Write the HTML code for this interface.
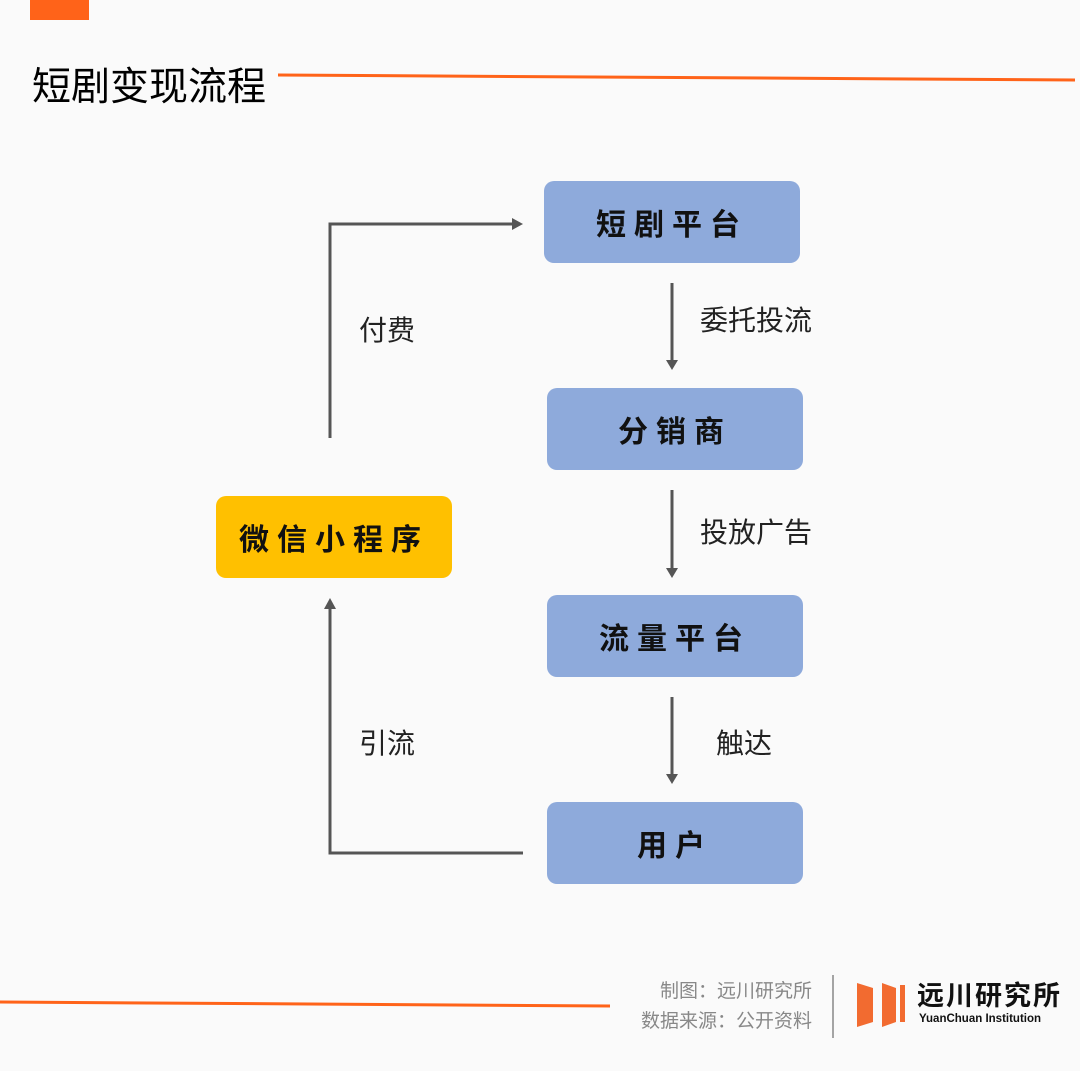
<!DOCTYPE html>
<html><head><meta charset="utf-8"><style>
body{margin:0;width:1080px;height:1071px;background:#fafafa;position:relative;overflow:hidden;font-family:"Liberation Sans","Noto Sans CJK SC",sans-serif}
.a{position:absolute;white-space:nowrap}
.box{position:absolute;background:#8eaadb;border-radius:10px;display:flex;align-items:center;justify-content:center;font-size:30px;letter-spacing:8px;color:#111;font-weight:bold}
.lb{position:absolute;font-size:28px;color:#222;white-space:nowrap}
</style></head><body>
<div class="a" style="left:30px;top:0;width:59px;height:20px;background:#ff6319"></div>
<div class="a" style="left:32px;top:56px;font-size:39px;color:#000">短剧变现流程</div>
<svg class="a" style="left:0;top:0" width="1080" height="1071">
<line x1="278" y1="75" x2="1075" y2="80" stroke="#ff6319" stroke-width="3"/>
<line x1="0" y1="1002" x2="610" y2="1006" stroke="#ff6319" stroke-width="3"/>
<line x1="833" y1="975" x2="833" y2="1038" stroke="#888" stroke-width="1.5"/>
<g stroke="#555" stroke-width="3" fill="none">
<line x1="672" y1="283" x2="672" y2="362"/>
<line x1="672" y1="490" x2="672" y2="572"/>
<line x1="672" y1="697" x2="672" y2="778"/>
<polyline points="330,438 330,224 515,224"/>
<polyline points="523,853 330,853 330,606"/>
</g>
<g fill="#555">
<polygon points="666,360 678,360 672,370"/>
<polygon points="666,568 678,568 672,578"/>
<polygon points="666,774 678,774 672,784"/>
<polygon points="512,218 512,230 523,224"/>
<polygon points="324,609 336,609 330,598"/>
</g>
<polygon points="857,983 873,988 873,1022 857,1027" fill="#f26b30"/>
<polygon points="882,983 896,988 896,1022 882,1027" fill="#f26b30"/>
<rect x="900" y="985" width="5" height="37" fill="#f26b30"/>
</svg>
<div class="box" style="left:544px;top:181px;width:256px;height:82px">短剧平台</div>
<div class="box" style="left:547px;top:388px;width:256px;height:82px">分销商</div>
<div class="box" style="left:547px;top:595px;width:256px;height:82px">流量平台</div>
<div class="box" style="left:547px;top:802px;width:256px;height:82px">用户</div>
<div class="box" style="left:216px;top:496px;width:236px;height:82px;background:#ffc000">微信小程序</div>
<div class="lb" style="left:700px;top:299px">委托投流</div>
<div class="lb" style="left:700px;top:511px">投放广告</div>
<div class="lb" style="left:716px;top:722px">触达</div>
<div class="lb" style="left:359px;top:309px">付费</div>
<div class="lb" style="left:359px;top:722px">引流</div>
<div class="a" style="right:268px;top:977px;font-size:19px;color:#888;text-align:right;line-height:30px">制图：远川研究所<br>数据来源：公开资料</div>
<div class="a" style="left:917px;top:983px;font-size:27px;line-height:27px;color:#111;letter-spacing:2px;font-weight:bold">远川研究所</div>
<div class="a" style="left:919px;top:1013px;font-size:11.5px;line-height:12px;color:#111;font-weight:bold">YuanChuan Institution</div>
</body></html>
